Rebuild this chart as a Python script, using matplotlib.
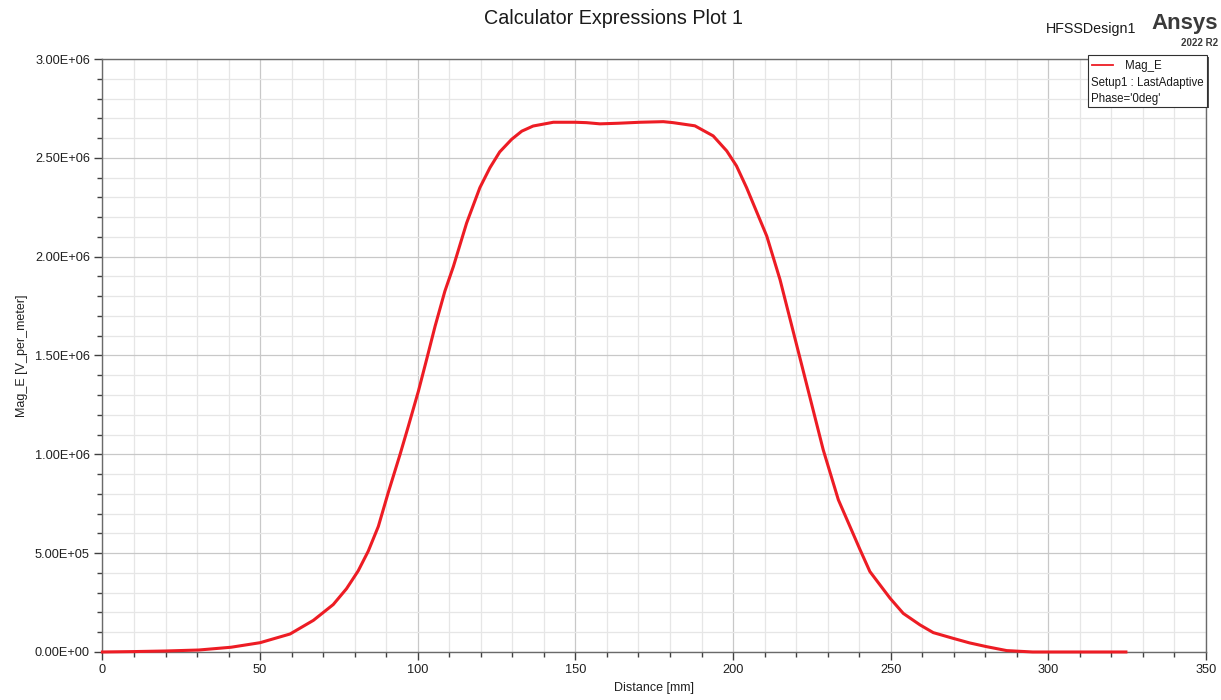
import numpy as np
import matplotlib.pyplot as plt
from matplotlib.lines import Line2D
from matplotlib.patches import Rectangle
from matplotlib.ticker import MultipleLocator, FuncFormatter

plt.rcParams['font.family'] = ['Liberation Sans', 'DejaVu Sans']

# Mag_E sampled along the line (distance in mm, field in V/m)
distance_mm = [0, 10, 20, 30.6, 40.8, 50.0, 59.5, 66.9, 73.2, 77.4, 81.1, 84.3,
               87.5, 90.6, 94.4, 97.0, 100.2, 102.8, 105.5, 108.6, 111.3, 115.5,
               119.7, 122.9, 126.0, 129.8, 133.0, 136.6, 143.0, 149.9, 153.5,
               157.8, 163.6, 170.5, 177.9, 181.0, 187.9, 193.7, 198.0, 201.1,
               204.3, 210.7, 214.9, 221.5, 228.6, 233.4, 240.3, 243.4, 249.8,
               254.0, 259.3, 263.5, 269.8, 275.0, 280.4, 286.8, 295.0, 310.0, 324.6]
mag_e = [0, 2.0e3, 5.0e3, 1.0e4, 2.4e4, 4.7e4, 9.1e4, 1.6e5, 2.4e5, 3.2e5,
         4.1e5, 5.1e5, 6.35e5, 8.04e5, 1.0e6, 1.141e6, 1.319e6, 1.479e6,
         1.648e6, 1.825e6, 1.95e6, 2.17e6, 2.349e6, 2.45e6, 2.53e6, 2.594e6,
         2.635e6, 2.661e6, 2.68e6, 2.68e6, 2.678e6, 2.672e6, 2.675e6, 2.68e6,
         2.683e6, 2.678e6, 2.662e6, 2.611e6, 2.535e6, 2.459e6, 2.349e6,
         2.104e6, 1.884e6, 1.47e6, 1.023e6, 7.7e5, 5.17e5, 4.07e5, 2.72e5,
         1.95e5, 1.37e5, 9.8e4, 6.9e4, 4.6e4, 2.7e4, 7.0e3, 0, 0, 0]

x_ticks = [0, 50, 100, 150, 200, 250, 300, 350]
y_ticks = [0, 5e5, 1e6, 1.5e6, 2e6, 2.5e6, 3e6]

fig = plt.figure(figsize=(12.21, 7), dpi=100)
ax = fig.add_axes([0.0839, 0.0686, 0.9038, 0.8471])

ax.plot(distance_mm, mag_e, color='#ed1c24', linewidth=2.2, clip_on=False, zorder=5)

ax.set_xlim(0, 350)
ax.set_ylim(0, 3e6)
ax.set_xticks(x_ticks)
ax.set_yticks(y_ticks)
ax.xaxis.set_minor_locator(MultipleLocator(10))
ax.yaxis.set_minor_locator(MultipleLocator(1e5))
ax.yaxis.set_major_formatter(FuncFormatter(lambda v, p: '{:.2E}'.format(v)))

ax.grid(which='major', color='#c8c8c8', linewidth=0.9)
ax.grid(which='minor', color='#e6e6e6', linewidth=0.9)
ax.set_axisbelow(True)

for s in ax.spines.values():
    s.set_color('#6a6a6a')
    s.set_linewidth(1.0)

ax.tick_params(which='major', direction='out', length=6, width=1.0, color='#404040',
               labelsize=9.2, labelcolor='#202020', pad=3)
ax.tick_params(which='minor', direction='out', length=3.5, width=1.0, color='#404040')

ax.set_xlabel('Distance [mm]', fontsize=9, color='#202020', labelpad=4)
ax.set_ylabel('Mag_E [V_per_meter]', fontsize=9, color='#202020', labelpad=5)

fig.text(0.5025, 0.974, 'Calculator Expressions Plot 1', ha='center', va='center',
         fontsize=14.2, color='#1a1a1a')
fig.text(0.9305, 0.958, 'HFSSDesign1', ha='right', va='center', fontsize=10.3, color='#1a1a1a')
fig.text(0.9975, 0.967, 'Ansys', ha='right', va='center', fontsize=16, fontweight='bold',
         color='#3a3a3a')
fig.text(0.9975, 0.938, '2022 R2', ha='right', va='center', fontsize=7, fontweight='bold',
         color='#3a3a3a')

# legend box with drop shadow
bx, by, bw, bh = 0.8908, 0.8476, 0.0975, 0.0736
fig.patches.append(Rectangle((bx + 0.0015, by - 0.0025), bw, bh, transform=fig.transFigure,
                             facecolor='#505050', edgecolor='none', zorder=9))
fig.patches.append(Rectangle((bx, by), bw, bh, transform=fig.transFigure,
                             facecolor='white', edgecolor='#303030', linewidth=0.8, zorder=10))
fig.lines.append(Line2D([0.8945, 0.9115], [0.907, 0.907], transform=fig.transFigure,
                        color='#ed1c24', linewidth=1.3, zorder=11))
fig.text(0.9215, 0.906, 'Mag_E', ha='left', va='center', fontsize=8.3, color='#1a1a1a', zorder=11)
fig.text(0.8935, 0.882, 'Setup1 : LastAdaptive', ha='left', va='center', fontsize=8.3,
         color='#1a1a1a', zorder=11)
fig.text(0.8935, 0.859, "Phase='0deg'", ha='left', va='center', fontsize=8.3,
         color='#1a1a1a', zorder=11)

fig.savefig('out.png', dpi=100)
